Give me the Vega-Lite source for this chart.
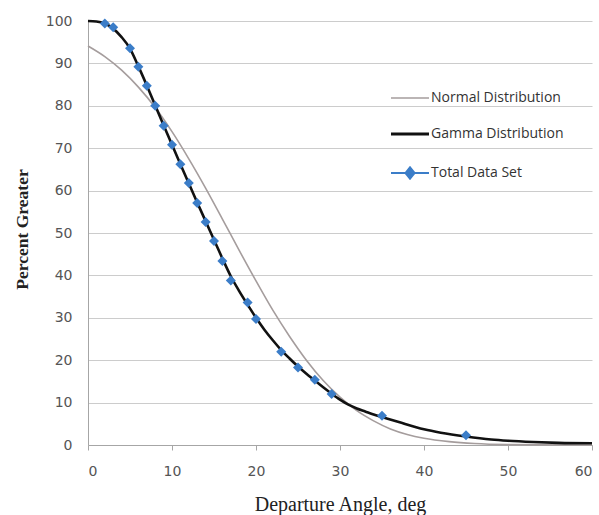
{
  "$schema": "https://vega.github.io/schema/vega-lite/v6.json",
  "width": 504,
  "height": 424,
  "autosize": "none",
  "padding": {"left": 88, "top": 21, "right": 7, "bottom": 70},
  "background": "white",
  "config": {
    "view": {"stroke": null},
    "axis": {"labelFont": "DejaVu Sans", "labelFontSize": 14, "labelColor": "#555555", "domainColor": "#a6a6a6", "tickColor": "#a6a6a6", "gridColor": "#cccccc"}
  },
  "datasets": {
    "curves": [
      {"series": "Normal Distribution", "x": 0, "y": 94.1},
      {"series": "Normal Distribution", "x": 2, "y": 91.6},
      {"series": "Normal Distribution", "x": 4, "y": 88.4},
      {"series": "Normal Distribution", "x": 6, "y": 84.4},
      {"series": "Normal Distribution", "x": 8, "y": 79.6},
      {"series": "Normal Distribution", "x": 10, "y": 73.9},
      {"series": "Normal Distribution", "x": 12, "y": 67.5},
      {"series": "Normal Distribution", "x": 14, "y": 60.6},
      {"series": "Normal Distribution", "x": 16, "y": 53.3},
      {"series": "Normal Distribution", "x": 18, "y": 45.9},
      {"series": "Normal Distribution", "x": 20, "y": 38.7},
      {"series": "Normal Distribution", "x": 22, "y": 31.8},
      {"series": "Normal Distribution", "x": 24, "y": 25.6},
      {"series": "Normal Distribution", "x": 26, "y": 20.0},
      {"series": "Normal Distribution", "x": 28, "y": 15.2},
      {"series": "Normal Distribution", "x": 30, "y": 11.3},
      {"series": "Normal Distribution", "x": 32, "y": 8.1},
      {"series": "Normal Distribution", "x": 34, "y": 5.7},
      {"series": "Normal Distribution", "x": 36, "y": 3.8},
      {"series": "Normal Distribution", "x": 38, "y": 2.5},
      {"series": "Normal Distribution", "x": 40, "y": 1.6},
      {"series": "Normal Distribution", "x": 43, "y": 0.8},
      {"series": "Normal Distribution", "x": 46, "y": 0.35},
      {"series": "Normal Distribution", "x": 50, "y": 0.1},
      {"series": "Normal Distribution", "x": 55, "y": 0.02},
      {"series": "Normal Distribution", "x": 60, "y": 0},
      {"series": "Gamma Distribution", "x": 0, "y": 100},
      {"series": "Gamma Distribution", "x": 1, "y": 99.9},
      {"series": "Gamma Distribution", "x": 2, "y": 99.4},
      {"series": "Gamma Distribution", "x": 3, "y": 98.2},
      {"series": "Gamma Distribution", "x": 4, "y": 96.2},
      {"series": "Gamma Distribution", "x": 5, "y": 93.5},
      {"series": "Gamma Distribution", "x": 6, "y": 89.3},
      {"series": "Gamma Distribution", "x": 7, "y": 84.8},
      {"series": "Gamma Distribution", "x": 8, "y": 80.1},
      {"series": "Gamma Distribution", "x": 9, "y": 75.4},
      {"series": "Gamma Distribution", "x": 10, "y": 70.8},
      {"series": "Gamma Distribution", "x": 11, "y": 66.2},
      {"series": "Gamma Distribution", "x": 12, "y": 61.7},
      {"series": "Gamma Distribution", "x": 13, "y": 57.2},
      {"series": "Gamma Distribution", "x": 14, "y": 52.8},
      {"series": "Gamma Distribution", "x": 15, "y": 48.4},
      {"series": "Gamma Distribution", "x": 16, "y": 44.0},
      {"series": "Gamma Distribution", "x": 17, "y": 39.8},
      {"series": "Gamma Distribution", "x": 18, "y": 36.3},
      {"series": "Gamma Distribution", "x": 19, "y": 33.1},
      {"series": "Gamma Distribution", "x": 20, "y": 30.0},
      {"series": "Gamma Distribution", "x": 21, "y": 27.2},
      {"series": "Gamma Distribution", "x": 22, "y": 24.7},
      {"series": "Gamma Distribution", "x": 23, "y": 22.4},
      {"series": "Gamma Distribution", "x": 24, "y": 20.4},
      {"series": "Gamma Distribution", "x": 25, "y": 18.5},
      {"series": "Gamma Distribution", "x": 26, "y": 16.8},
      {"series": "Gamma Distribution", "x": 27, "y": 15.2},
      {"series": "Gamma Distribution", "x": 28, "y": 13.6},
      {"series": "Gamma Distribution", "x": 29, "y": 12.1},
      {"series": "Gamma Distribution", "x": 30, "y": 10.7},
      {"series": "Gamma Distribution", "x": 31, "y": 9.5},
      {"series": "Gamma Distribution", "x": 32, "y": 8.6},
      {"series": "Gamma Distribution", "x": 33, "y": 7.9},
      {"series": "Gamma Distribution", "x": 34, "y": 7.2},
      {"series": "Gamma Distribution", "x": 35, "y": 6.6},
      {"series": "Gamma Distribution", "x": 37, "y": 5.4},
      {"series": "Gamma Distribution", "x": 40, "y": 3.7},
      {"series": "Gamma Distribution", "x": 42, "y": 2.9},
      {"series": "Gamma Distribution", "x": 45, "y": 2.0},
      {"series": "Gamma Distribution", "x": 48, "y": 1.3},
      {"series": "Gamma Distribution", "x": 50, "y": 1.0},
      {"series": "Gamma Distribution", "x": 53, "y": 0.7},
      {"series": "Gamma Distribution", "x": 56, "y": 0.5},
      {"series": "Gamma Distribution", "x": 60, "y": 0.4}
    ],
    "points": [
      {"series": "Total Data Set", "x": 2, "y": 99.4},
      {"series": "Total Data Set", "x": 3, "y": 98.5},
      {"series": "Total Data Set", "x": 5, "y": 93.6},
      {"series": "Total Data Set", "x": 6, "y": 89.2},
      {"series": "Total Data Set", "x": 7, "y": 84.7},
      {"series": "Total Data Set", "x": 8, "y": 80.0},
      {"series": "Total Data Set", "x": 9, "y": 75.3},
      {"series": "Total Data Set", "x": 10, "y": 70.8},
      {"series": "Total Data Set", "x": 11, "y": 66.2},
      {"series": "Total Data Set", "x": 12, "y": 61.8},
      {"series": "Total Data Set", "x": 13, "y": 57.1},
      {"series": "Total Data Set", "x": 14, "y": 52.6},
      {"series": "Total Data Set", "x": 15, "y": 48.1},
      {"series": "Total Data Set", "x": 16, "y": 43.4},
      {"series": "Total Data Set", "x": 17, "y": 38.8},
      {"series": "Total Data Set", "x": 19, "y": 33.6},
      {"series": "Total Data Set", "x": 20, "y": 29.7},
      {"series": "Total Data Set", "x": 23, "y": 22.0},
      {"series": "Total Data Set", "x": 25, "y": 18.3},
      {"series": "Total Data Set", "x": 27, "y": 15.4},
      {"series": "Total Data Set", "x": 29, "y": 12.0},
      {"series": "Total Data Set", "x": 35, "y": 6.9},
      {"series": "Total Data Set", "x": 45, "y": 2.3}
    ]
  },
  "encoding": {
    "x": {
      "field": "x", "type": "quantitative",
      "scale": {"domain": [0, 60], "nice": false},
      "axis": {"values": [0, 10, 20, 30, 40, 50, 60], "grid": false, "tickSize": 5, "labelPadding": 14, "title": "Departure Angle, deg", "titleFont": "Liberation Serif", "titleFontSize": 20, "titleFontWeight": "normal", "titleColor": "#222222", "titlePadding": 16}
    },
    "y": {
      "field": "y", "type": "quantitative",
      "scale": {"domain": [0, 100], "nice": false},
      "axis": {"values": [0, 10, 20, 30, 40, 50, 60, 70, 80, 90, 100], "grid": true, "ticks": false, "labelPadding": 16, "title": "Percent Greater", "titleFont": "Liberation Serif", "titleFontSize": 17.5, "titleFontWeight": "bold", "titleColor": "#222222", "titleX": -66, "titleY": 208, "titleAngle": -90, "titleAlign": "center", "titleBaseline": "middle"}
    }
  },
  "layer": [
    {
      "data": {"name": "curves"},
      "mark": {"type": "line", "interpolate": "monotone"},
      "encoding": {
        "detail": {"field": "series"},
        "color": {
          "field": "series", "type": "nominal",
          "scale": {"domain": ["Normal Distribution", "Gamma Distribution", "Total Data Set"], "range": ["#a59d9d", "#111111", "#3b7dc8"]},
          "legend": {
            "orient": "none", "legendX": 315, "legendY": 70, "title": null,
            "symbolSize": 1444, "rowPadding": 22, "labelOffset": 14,
            "labelFont": "Open Sans", "labelFontSize": 14, "labelColor": "#333333",
            "encode": {
              "symbols": {
                "update": {
                  "shape": {"signal": "datum.value === 'Total Data Set' ? 'M-1,0H1M-0.24,0L0,-0.3L0.24,0L0,0.3Z' : 'M-1,0H1'"},
                  "stroke": {"signal": "datum.value === 'Normal Distribution' ? '#a59d9d' : datum.value === 'Gamma Distribution' ? '#111111' : '#7f86c6'"},
                  "fill": {"signal": "datum.value === 'Total Data Set' ? '#3b7dc8' : 'transparent'"},
                  "strokeWidth": {"signal": "datum.value === 'Normal Distribution' ? 1.5 : datum.value === 'Gamma Distribution' ? 3 : 2"},
                  "opacity": {"value": 1}
                }
              }
            }
          }
        },
        "strokeWidth": {
          "field": "series", "type": "nominal",
          "scale": {"domain": ["Normal Distribution", "Gamma Distribution"], "range": [1.6, 2.6]},
          "legend": null
        }
      }
    },
    {
      "data": {"name": "points"},
      "mark": {"type": "point", "shape": "diamond", "filled": true, "size": 100, "opacity": 1},
      "encoding": {
        "color": {"field": "series", "type": "nominal"}
      }
    }
  ]
}
